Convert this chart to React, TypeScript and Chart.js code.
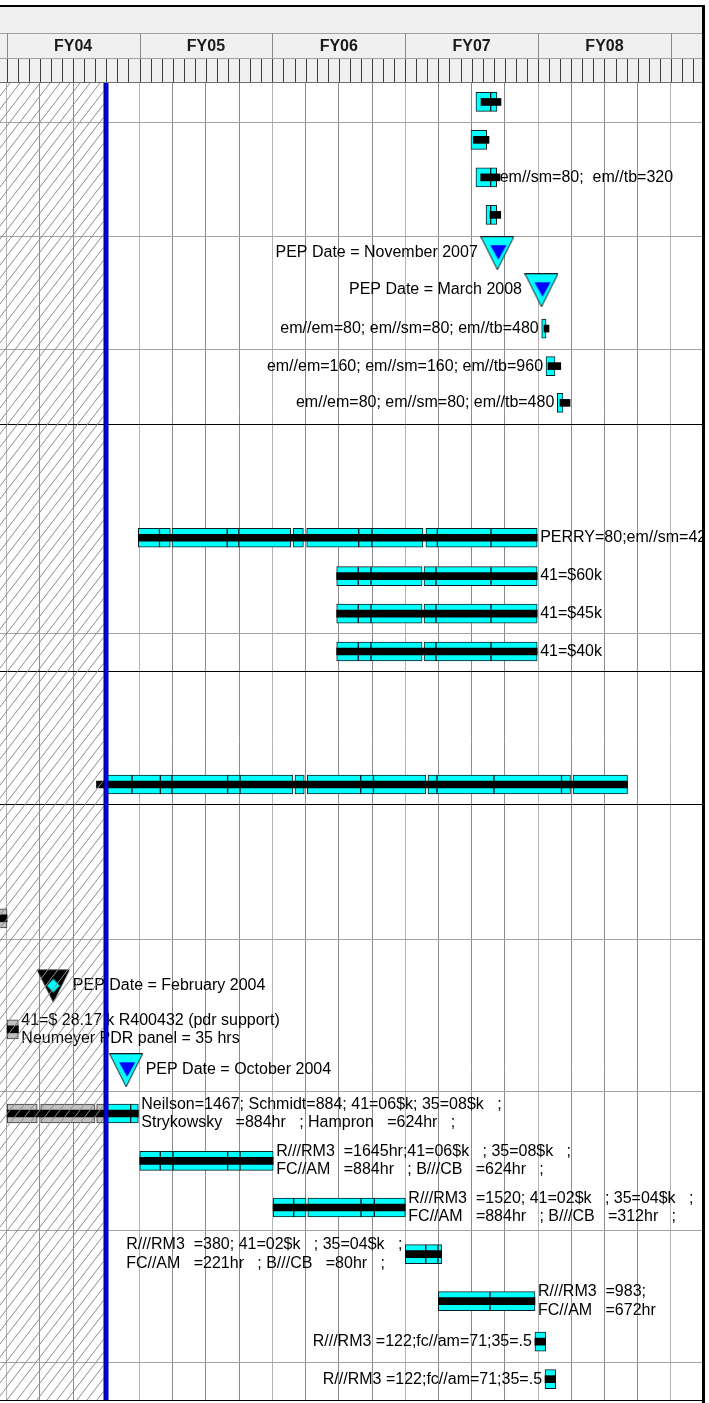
import { useEffect, useRef } from 'react';
import { Chart, registerables } from 'chart.js';

Chart.register(...registerables);

// ---------- axes (x = months since 1 Oct 2003, start of FY04; y = task rows) ----------
const X_MIN = -0.605;
const X_MAX = 62.81;
const STATUS_MONTH = 8.97;
const FY_LABELS = ['FY04', 'FY05', 'FY06', 'FY07', 'FY08', 'FY09'];
const FY_START_MONTH = [0, 12, 24, 36, 48, 60];
const QUARTER_TICKS = [0, 3, 6, 9, 12, 15, 18, 21, 24, 27, 30, 33, 36, 39, 42, 45, 48, 51, 54, 57, 60];
const Y_MAX = 34.75;
const SEPARATOR_ROWS = [1.03, 4.04, 7.02, 9.0, 14.53, 15.53, 19.05, 22.59, 26.6, 30.28, 33.75, 34.75];
const SEPARATOR_DARK = [false, false, false, true, false, true, true, false, false, false, false, true];

// ---------- tasks ----------
const TASK_ROW = [0.5, 1.5, 2.49, 3.48, 6.48, 7.47, 8.44, 12.0, 13.01, 14.0, 15.0, 18.51, 22.04, 24.97, 27.19, 28.44, 29.67, 30.9, 32.14, 33.21, 34.2];

const TASK_SEGMENTS: number[][][] = [
  [[42.39, 43.72], [43.72, 44.29]],
  [[41.94, 43.36]],
  [[42.39, 43.72], [43.72, 44.26]],
  [[43.3, 43.72], [43.72, 44.26]],
  [[48.33, 48.72]],
  [[48.72, 49.53]],
  [[49.74, 50.25]],
  [[11.89, 13.8], [13.8, 14.78], [14.93, 19.92], [19.92, 20.97], [20.97, 25.66], [25.87, 26.8], [27.1, 31.8], [31.8, 33.0], [33.0, 37.6], [37.87, 38.9], [38.9, 43.75], [43.75, 47.92]],
  [[29.81, 31.76], [31.76, 32.91], [32.91, 37.52], [37.7, 38.78], [38.78, 43.75], [43.75, 47.92]],
  [[29.81, 31.76], [31.76, 32.91], [32.91, 37.52], [37.7, 38.78], [38.78, 43.75], [43.75, 47.92]],
  [[29.81, 31.76], [31.76, 32.91], [32.91, 37.52], [37.7, 38.78], [38.78, 43.75], [43.75, 47.92]],
  [[9.06, 11.32], [11.32, 13.88], [13.88, 14.93], [14.93, 19.96], [19.96, 21.08], [21.08, 25.85], [26.04, 26.88], [27.16, 31.98], [31.98, 33.13], [33.13, 37.86], [38.06, 38.87], [38.87, 44.02], [44.02, 50.12], [50.12, 50.93], [51.16, 56.08]],
  [[-1.5, 0.03]],
  [[0, 1.05]],
  [[0, 2.76], [3.07, 7.98], [8.13, 8.97], [8.97, 11.2], [11.2, 11.89]],
  [[12.02, 13.87], [13.87, 15.02], [15.02, 19.96], [19.96, 21.08], [21.08, 24.07]],
  [[24.07, 25.93], [25.93, 27.04], [27.2, 32.01], [32.01, 33.21], [33.21, 36.01]],
  [[36.01, 37.86], [37.86, 38.96], [38.96, 39.29]],
  [[38.99, 43.66], [43.66, 47.72]],
  [[47.72, 48.69]],
  [[48.63, 49.59]],
];

const TASK_PROGRESS: number[][] = [
  [42.85, 44.65], [42.15, 43.57], [42.82, 44.56], [43.66, 44.63],
  [48.54, 48.99], [48.9, 50.05], [49.98, 50.89],
  [11.89, 47.92], [29.81, 47.92], [29.81, 47.92], [29.81, 47.92],
  [8.11, 56.08], [-1.5, 0.03], [0, 1.05], [0, 11.89],
  [12.02, 24.07], [24.07, 36.01], [36.01, 39.29], [38.99, 47.72],
  [47.72, 48.69], [48.63, 49.59],
];

const TASK_LABEL: string[][] = [
  [],
  [],
  ['em//sm=80;  em//tb=320'],
  [],
  ['em//em=80; em//sm=80; em//tb=480'],
  ['em//em=160; em//sm=160; em//tb=960'],
  ['em//em=80; em//sm=80; em//tb=480'],
  ['PERRY=80;em//sm=420; em//tb=640'],
  ['41=$60k'],
  ['41=$45k'],
  ['41=$40k'],
  [],
  [],
  ['41=$ 28.17 k R400432 (pdr support)', 'Neumeyer PDR panel = 35 hrs'],
  ['Neilson=1467; Schmidt=884; 41=06$k; 35=08$k   ;', 'Strykowsky   =884hr   ; Hampron   =624hr   ;'],
  ['R///RM3  =1645hr;41=06$k   ; 35=08$k   ;', 'FC//AM   =884hr   ; B///CB   =624hr   ;'],
  ['R///RM3  =1520; 41=02$k   ; 35=04$k   ;', 'FC//AM   =884hr   ; B///CB   =312hr   ;'],
  ['R///RM3  =380; 41=02$k   ; 35=04$k   ;', 'FC//AM   =221hr   ; B///CB   =80hr   ;'],
  ['R///RM3  =983;', 'FC//AM   =672hr'],
  ['R///RM3 =122;fc//am=71;35=.5'],
  ['R///RM3 =122;fc//am=71;35=.5'],
];

const TASK_LABEL_SIDE = [
  '', '', 'right', '', 'left', 'left', 'left', 'right', 'right', 'right', 'right',
  '', '', 'right', 'right', 'right', 'right', 'left', 'right', 'left', 'left',
];

// ---------- milestones ----------
const MILESTONE_MONTH = [44.32, 48.31, 4.21, 10.79];
const MILESTONE_ROW = [4.49, 5.47, 23.83, 26.05];
const MILESTONE_KIND = ['pep', 'pep', 'past', 'pep'];
const MILESTONE_LABEL = ['PEP Date = November 2007', 'PEP Date = March 2008', 'PEP Date = February 2004', 'PEP Date = October 2004'];
const MILESTONE_SIDE = ['left', 'left', 'right', 'right'];

// ---------- style ----------
const FONT = '16px "Liberation Sans", Arial, sans-serif';
const BOLD_FONT = 'bold 16px "Liberation Sans", Arial, sans-serif';
const LINE_H = 18.4;
const GAP = 3;
const MARKER_HALF = 16.5;
const CYAN = '#00ffff';
const PAST_GRAY = '#c0c0c0';

function makePepMarker(): HTMLCanvasElement {
  const c = document.createElement('canvas');
  c.width = 34; c.height = 34;
  const g = c.getContext('2d')!;
  g.beginPath(); g.moveTo(0.5, 0.5); g.lineTo(33.5, 0.5); g.lineTo(17, 33.5); g.closePath();
  g.fillStyle = CYAN; g.fill(); g.strokeStyle = '#1a1a1a'; g.lineWidth = 1; g.stroke();
  g.beginPath(); g.moveTo(10, 9); g.lineTo(26, 9); g.lineTo(18, 23.5); g.closePath();
  g.fillStyle = '#0000ff'; g.fill();
  return c;
}

function makePastMarker(): HTMLCanvasElement {
  const c = document.createElement('canvas');
  c.width = 34; c.height = 34;
  const g = c.getContext('2d')!;
  g.beginPath(); g.moveTo(0.5, 0.5); g.lineTo(33.5, 0.5); g.lineTo(17, 33.5); g.closePath();
  g.fillStyle = '#000'; g.fill();
  g.beginPath(); g.moveTo(17, 9.5); g.lineTo(23.7, 16.5); g.lineTo(17, 23.5); g.lineTo(10.3, 16.5); g.closePath();
  g.fillStyle = CYAN; g.fill(); g.strokeStyle = '#0a4a4a'; g.lineWidth = 1; g.stroke();
  return c;
}

const overlayPlugin = {
  id: 'ganttOverlay',
  afterDatasetsDraw(chart: any) {
    const { ctx, chartArea: a, scales: { x, y } } = chart;
    ctx.save();
    ctx.beginPath();
    ctx.rect(a.left, a.top, a.right - a.left, a.bottom - a.top);
    ctx.clip();
    ctx.font = FONT;
    ctx.fillStyle = '#000';
    ctx.textBaseline = 'middle';
    ctx.textAlign = 'left';
    TASK_LABEL.forEach((lines, i) => {
      if (!lines.length) return;
      const segs = TASK_SEGMENTS[i];
      const start = Math.min(...segs.map((s) => s[0]));
      const end = Math.max(...segs.map((s) => s[1]));
      const cy = y.getPixelForValue(TASK_ROW[i]);
      const maxW = Math.max(...lines.map((l) => ctx.measureText(l).width));
      const left = TASK_LABEL_SIDE[i] === 'right'
        ? x.getPixelForValue(end) + GAP
        : x.getPixelForValue(start) - GAP - maxW;
      lines.forEach((l, k) => ctx.fillText(l, left, cy + (k - (lines.length - 1) / 2) * LINE_H));
    });
    MILESTONE_LABEL.forEach((label, i) => {
      const px = x.getPixelForValue(MILESTONE_MONTH[i]);
      const cy = y.getPixelForValue(MILESTONE_ROW[i]) - 1;
      if (MILESTONE_SIDE[i] === 'right') {
        ctx.textAlign = 'left';
        ctx.fillText(label, px + MARKER_HALF + GAP, cy);
      } else {
        ctx.textAlign = 'right';
        ctx.fillText(label, px - MARKER_HALF - GAP, cy);
      }
    });
    ctx.restore();

    // hatch over the elapsed period
    const sx = x.getPixelForValue(STATUS_MONTH);
    const H = a.bottom - a.top;
    ctx.save();
    ctx.beginPath();
    ctx.rect(a.left, a.top, sx - 2.5 - a.left, H);
    ctx.clip();
    ctx.strokeStyle = '#8c8c8c';
    ctx.lineWidth = 1;
    const run = H / 1.3;
    ctx.beginPath();
    for (let bx = a.left - run; bx < sx; bx += 10) {
      ctx.moveTo(bx, a.bottom);
      ctx.lineTo(bx + run, a.top);
    }
    ctx.stroke();
    ctx.restore();

    // status date line
    ctx.save();
    ctx.fillStyle = '#00007a';
    ctx.fillRect(sx - 2.5, a.top, 5, H);
    ctx.fillStyle = '#0000ff';
    ctx.fillRect(sx - 1.2, a.top, 2.6, H);
    ctx.restore();
  },
  afterDraw(chart: any) {
    const { ctx, chartArea: a, scales: { x } } = chart;
    ctx.save();
    // header bands
    ctx.fillStyle = '#f0f0f0';
    ctx.fillRect(0, 7, a.right, a.top - 7);
    ctx.fillStyle = '#a0a0a0';
    ctx.fillRect(0, 33, a.right, 1);
    ctx.fillRect(0, 58, a.right, 1);
    ctx.fillStyle = '#6e6e6e';
    ctx.fillRect(0, a.top - 1, a.right, 1);
    // fiscal year row
    ctx.fillStyle = '#8a8a8a';
    FY_START_MONTH.forEach((m) => {
      const px = Math.round(x.getPixelForValue(m));
      if (px >= 0 && px < a.right) ctx.fillRect(px, 33, 1, 25);
    });
    ctx.font = BOLD_FONT;
    ctx.fillStyle = '#1a1a1a';
    ctx.textAlign = 'center';
    ctx.textBaseline = 'middle';
    FY_LABELS.forEach((lab, i) => {
      const cx = x.getPixelForValue(FY_START_MONTH[i] + 6);
      if (cx < a.right) ctx.fillText(lab, cx, 46.5);
    });
    // month ticks
    ctx.fillStyle = '#3c3c3c';
    for (let m = Math.ceil(X_MIN); m <= X_MAX; m++) {
      const px = Math.round(x.getPixelForValue(m));
      ctx.fillRect(px, 59, 1, a.top - 60);
    }
    // frame
    ctx.fillStyle = '#000';
    ctx.fillRect(0, 5, a.right + 3, 2);
    ctx.fillRect(a.right, 5, 3, chart.height - 5);
    ctx.restore();
  },
};

export default function App() {
  const ref = useRef<HTMLCanvasElement>(null);
  useEffect(() => {
    if (!ref.current) return;
    const markers: Record<string, HTMLCanvasElement> = { pep: makePepMarker(), past: makePastMarker() };

    const segData: any[] = [];
    TASK_SEGMENTS.forEach((segs, i) => segs.forEach((s) => segData.push({ x: s, y: TASK_ROW[i], past: s[1] <= STATUS_MONTH + 0.001 })));
    const progData = TASK_PROGRESS.map((p, i) => ({ x: p, y: TASK_ROW[i] }));
    const msData = MILESTONE_MONTH.map((m, i) => ({ x: m, y: MILESTONE_ROW[i] }));

    const chart = new Chart(ref.current, {
      type: 'bar',
      data: {
        datasets: [
          {
            type: 'scatter',
            label: 'milestones',
            data: msData,
            order: 0,
            pointStyle: (c: any) => markers[MILESTONE_KIND[c.dataIndex]] as any,
            pointRadius: 16,
            showLine: false,
            clip: false,
          } as any,
          {
            label: 'progress',
            data: progData,
            order: 1,
            backgroundColor: '#000',
            borderWidth: 0,
            barThickness: 7,
            grouped: false,
          },
          {
            label: 'tasks',
            data: segData,
            order: 2,
            backgroundColor: (c: any) => (c.raw && c.raw.past ? PAST_GRAY : CYAN),
            borderColor: (c: any) => (c.raw && c.raw.past ? '#3a3a3a' : '#0d1f1f'),
            borderWidth: 1,
            borderSkipped: false,
            barThickness: 19,
            grouped: false,
          },
        ] as any,
      },
      options: {
        animation: false,
        responsive: false,
        indexAxis: 'y',
        layout: { autoPadding: false, padding: { top: 83, bottom: 3, left: 0, right: 7 } },
        plugins: { legend: { display: false }, tooltip: { enabled: false } },
        scales: {
          x: {
            type: 'linear',
            min: X_MIN,
            max: X_MAX,
            beginAtZero: false,
            bounds: 'data',
            offset: false,
            ticks: { display: false },
            border: { display: false },
            grid: {
              offset: false,
              drawTicks: false,
              lineWidth: 1,
              color: (c: any) => (c.tick && c.tick.value % 12 === 0 ? '#b4b4b4' : '#8c8c8c'),
            },
            afterBuildTicks: (s: any) => { s.ticks = QUARTER_TICKS.map((v) => ({ value: v })); },
          },
          y: {
            type: 'linear',
            reverse: true,
            min: 0,
            max: Y_MAX,
            bounds: 'data',
            offset: false,
            ticks: { display: false },
            border: { display: false },
            grid: {
              offset: false,
              drawTicks: false,
              lineWidth: 1,
              color: (c: any) => (SEPARATOR_DARK[c.index] ? '#000' : '#a4a4a4'),
            },
            afterBuildTicks: (s: any) => { s.ticks = SEPARATOR_ROWS.map((v) => ({ value: v })); },
          },
        } as any,
      } as any,
      plugins: [overlayPlugin],
    });
    return () => chart.destroy();
  }, []);

  return (
    <canvas
      ref={ref}
      width={709}
      height={1403}
      style={{ position: 'absolute', left: 0, top: 0, width: 709, height: 1403 }}
    />
  );
}
